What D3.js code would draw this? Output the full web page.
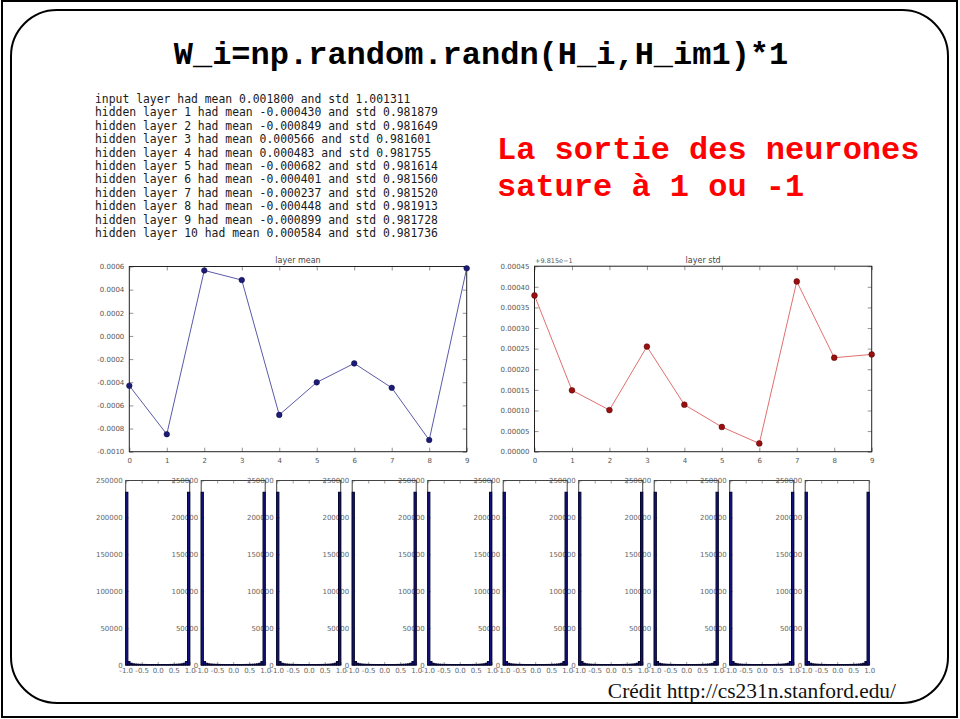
<!DOCTYPE html>
<html>
<head>
<meta charset="utf-8">
<script src="https://cdn.jsdelivr.net/npm/d3@7"></script>
<style>
  html, body { margin: 0; padding: 0; background: #fff; }
  svg { display: block; }
  .tick text { font-family: "DejaVu Sans", sans-serif; }
</style>
</head>
<body>
<svg id="chart" width="960" height="719"></svg>
<script>
// ---- data -----------------------------------------------------------
const slideTitle = "W_i=np.random.randn(H_i,H_im1)*1";
const noteLines = ["La sortie des neurones", "sature à 1 ou -1"];
const credit = "Crédit http://cs231n.stanford.edu/";

const inputMean = 0.001800;
const inputStd = 1.001311;
const layerIndex = [0, 1, 2, 3, 4, 5, 6, 7, 8, 9];
const layerMeans = [-0.000430, -0.000849, 0.000566, 0.000483, -0.000682,
                    -0.000401, -0.000237, -0.000448, -0.000899, 0.000584];
const layerStds = [0.981879, 0.981649, 0.981601, 0.981755, 0.981614,
                   0.981560, 0.981520, 0.981913, 0.981728, 0.981736];
const stdOffset = 0.9815;
const stdOffsetLabel = "+9.815e\u22121";

const meanTicks = [0.0006, 0.0004, 0.0002, 0.0000, -0.0002, -0.0004, -0.0006, -0.0008, -0.0010];
const meanTickLabels = ["0.0006", "0.0004", "0.0002", "0.0000", "-0.0002", "-0.0004", "-0.0006", "-0.0008", "-0.0010"];
const stdTicks = [0.00045, 0.00040, 0.00035, 0.00030, 0.00025, 0.00020, 0.00015, 0.00010, 0.00005, 0.00000];
const stdTickLabels = ["0.00045", "0.00040", "0.00035", "0.00030", "0.00025", "0.00020", "0.00015", "0.00010", "0.00005", "0.00000"];

// histogram of tanh activations per layer: 30 bins over [-1, 1]
const histCounts = [234000, 4600, 2300, 1500, 1150, 950, 820, 740, 690, 650,
                    620, 600, 590, 580, 575, 575, 580, 590, 600, 620,
                    650, 690, 740, 820, 950, 1150, 1500, 2300, 4600, 234000];
const histTicksX = [-1.0, -0.5, 0.0, 0.5, 1.0];
const histTickLabelsX = ["-1.0", "-0.5", "0.0", "0.5", "1.0"];
const histTicksY = [0, 50000, 100000, 150000, 200000, 250000];
const histTickLabelsY = ["0", "50000", "100000", "150000", "200000", "250000"];

// ---- drawing --------------------------------------------------------
const svg = d3.select("#chart");

svg.append("rect").attr("x", 0).attr("y", 0).attr("width", 960).attr("height", 719).attr("fill", "#fff");
svg.append("rect").attr("x", 2).attr("y", 1).attr("width", 955).attr("height", 716)
  .attr("fill", "none").attr("stroke", "#000").attr("stroke-width", 2);
svg.append("rect").attr("x", 11).attr("y", 10).attr("width", 937).attr("height", 693)
  .attr("rx", 46).attr("ry", 46)
  .attr("fill", "none").attr("stroke", "#000").attr("stroke-width", 2);

svg.append("text").attr("x", 481).attr("y", 64).attr("text-anchor", "middle")
  .attr("font-family", "'Courier New', 'Liberation Mono', monospace")
  .attr("font-weight", "bold").attr("font-size", 32).attr("fill", "#000")
  .text(slideTitle);

svg.append("text")
  .attr("font-family", "'Courier New', 'Liberation Mono', monospace")
  .attr("font-weight", "bold").attr("font-size", 32).attr("fill", "#ff0000")
  .selectAll("tspan").data(noteLines).join("tspan")
  .attr("x", 497).attr("y", (d, i) => 159 + i * 37)
  .text(d => d);

// printed statistics
const f6 = v => v.toFixed(6);
const statLines = [`input layer had mean ${f6(inputMean)} and std ${f6(inputStd)}`]
  .concat(layerIndex.map(i => `hidden layer ${i + 1} had mean ${f6(layerMeans[i])} and std ${f6(layerStds[i])}`));
svg.append("text")
  .attr("font-family", "'DejaVu Sans Mono', monospace").attr("font-size", 11.4).attr("fill", "#1a1a1a")
  .selectAll("tspan").data(statLines).join("tspan")
  .attr("x", 95).attr("y", (d, i) => 103 + i * 13.4)
  .text(d => d);

// ---- line panels ----------------------------------------------------
function framedAxes(g, x, y, xTicks, yTicks, yLabels) {
  const [x0, x1] = x.range();
  const [y0, y1] = y.range();
  const tk = 4;
  const left = g.append("g").attr("transform", `translate(${x0},0)`)
    .call(d3.axisLeft(y).tickValues(yTicks).tickSize(-tk).tickPadding(5)
      .tickFormat((d, i) => yLabels[i]));
  const right = g.append("g").attr("transform", `translate(${x1},0)`)
    .call(d3.axisRight(y).tickValues(yTicks).tickSize(-tk).tickFormat(""));
  const bottom = g.append("g").attr("transform", `translate(0,${y0})`)
    .call(d3.axisBottom(x).tickValues(xTicks).tickSize(-tk).tickPadding(6).tickFormat(d3.format("d")));
  const top = g.append("g").attr("transform", `translate(0,${y1})`)
    .call(d3.axisTop(x).tickValues(xTicks).tickSize(-tk).tickFormat(""));
  [left, right, bottom, top].forEach(a => {
    a.select(".domain").remove();
    a.selectAll(".tick line").attr("stroke", "#777").attr("stroke-width", 0.8);
    a.selectAll(".tick text").attr("font-size", 7).attr("fill", "#555");
  });
  g.append("rect").attr("x", x0).attr("y", y1).attr("width", x1 - x0).attr("height", y0 - y1)
    .attr("fill", "none").attr("stroke", "#222").attr("stroke-width", 1);
}

// layer mean
const gm = svg.append("g");
const mx = d3.scaleLinear().domain([0, 9]).range([129.3, 466.7]);
const my = d3.scaleLinear().domain([-0.0010, 0.0006]).range([451.7, 266.5]);
framedAxes(gm, mx, my, layerIndex, meanTicks, meanTickLabels);
gm.append("text").attr("x", (mx.range()[0] + mx.range()[1]) / 2).attr("y", 262.5)
  .attr("text-anchor", "middle").attr("font-family", "'DejaVu Sans', sans-serif")
  .attr("font-size", 8).attr("fill", "#444").text("layer mean");
gm.append("path").datum(layerIndex)
  .attr("d", d3.line().x(i => mx(i)).y(i => my(layerMeans[i])))
  .attr("fill", "none").attr("stroke", "#5a5aa8").attr("stroke-width", 1);
gm.selectAll("circle").data(layerIndex).join("circle")
  .attr("cx", i => mx(i)).attr("cy", i => my(layerMeans[i])).attr("r", 2.8)
  .attr("fill", "#1c1c78").attr("stroke", "#0a0a40").attr("stroke-width", 0.5);

// layer std
const gs = svg.append("g");
const sx = d3.scaleLinear().domain([0, 9]).range([534.5, 871.7]);
const sy = d3.scaleLinear().domain([0, 0.00045]).range([451.7, 266.2]);
framedAxes(gs, sx, sy, layerIndex, stdTicks, stdTickLabels);
gs.append("text").attr("x", (sx.range()[0] + sx.range()[1]) / 2).attr("y", 262.5)
  .attr("text-anchor", "middle").attr("font-family", "'DejaVu Sans', sans-serif")
  .attr("font-size", 8).attr("fill", "#444").text("layer std");
gs.append("text").attr("x", 535).attr("y", 263)
  .attr("font-family", "'DejaVu Sans', sans-serif")
  .attr("font-size", 6.5).attr("fill", "#555").text(stdOffsetLabel);
gs.append("path").datum(layerIndex)
  .attr("d", d3.line().x(i => sx(i)).y(i => sy(layerStds[i] - stdOffset)))
  .attr("fill", "none").attr("stroke", "#e07070").attr("stroke-width", 1);
gs.selectAll("circle").data(layerIndex).join("circle")
  .attr("cx", i => sx(i)).attr("cy", i => sy(layerStds[i] - stdOffset)).attr("r", 2.9)
  .attr("fill", "#9a1010").attr("stroke", "#4a0000").attr("stroke-width", 0.5);

// ---- activation histograms -----------------------------------------
const binEdges = d3.range(histCounts.length + 1).map(i => -1 + i * 2 / histCounts.length);
const panelLeft = 125.7, panelStep = 75.5, panelWidth = 64, panelTop = 480.5, panelBottom = 665;
const hy = d3.scaleLinear().domain([0, 250000]).range([panelBottom, panelTop]);

const labelLayer = svg.append("g");
const plotLayer = svg.append("g");
layerIndex.forEach(k => {
  const x0 = panelLeft + k * panelStep;
  const hx = d3.scaleLinear().domain([-1, 1]).range([x0, x0 + panelWidth]);

  // tick labels sit beneath the neighbouring panel's bars
  const ya = labelLayer.append("g").attr("transform", `translate(${x0},0)`)
    .call(d3.axisLeft(hy).tickValues(histTicksY).tickSize(-3).tickPadding(3)
      .tickFormat((d, i) => histTickLabelsY[i]));
  const xa = labelLayer.append("g").attr("transform", `translate(0,${panelBottom})`)
    .call(d3.axisBottom(hx).tickValues(histTicksX).tickSize(-3).tickPadding(3)
      .tickFormat((d, i) => histTickLabelsX[i]));
  const ta = labelLayer.append("g").attr("transform", `translate(0,${panelTop})`)
    .call(d3.axisTop(hx).tickValues(histTicksX).tickSize(-3).tickFormat(""));
  [ya, xa, ta].forEach(a => {
    a.select(".domain").remove();
    a.selectAll(".tick line").attr("stroke", "#888").attr("stroke-width", 0.8);
    a.selectAll(".tick text").attr("font-size", 7).attr("fill", "#666");
  });

  const g = plotLayer.append("g");
  g.append("rect").attr("x", x0).attr("y", panelTop).attr("width", panelWidth)
    .attr("height", panelBottom - panelTop)
    .attr("fill", "none").attr("stroke", "#444").attr("stroke-width", 1);
  g.selectAll("rect.bar").data(histCounts).join("rect").attr("class", "bar")
    .attr("x", (d, i) => hx(binEdges[i]))
    .attr("width", (d, i) => hx(binEdges[i + 1]) - hx(binEdges[i]))
    .attr("y", d => hy(d))
    .attr("height", d => panelBottom - hy(d))
    .attr("fill", "#14148c").attr("stroke", "#050530").attr("stroke-width", 1.1);
});

svg.append("text").attr("x", 896).attr("y", 698).attr("text-anchor", "end")
  .attr("font-family", "'Times New Roman', 'Liberation Serif', serif")
  .attr("font-size", 21.4).attr("fill", "#111").text(credit);
</script>
</body>
</html>
